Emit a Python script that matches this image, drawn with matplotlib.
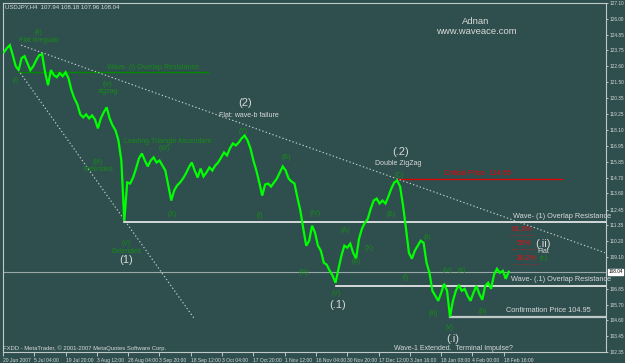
import numpy as np
import matplotlib
matplotlib.use("Agg")
from matplotlib import pyplot as plt
from matplotlib.transforms import blended_transform_factory

plt.rcParams["font.family"] = ["Liberation Sans", "DejaVu Sans"]

# USDJPY H4 closes, one reading per trading day (every 6 H4 bars)
closes = [
    123.61, 123.90, 124.11, 123.40, 122.62, 122.34, 123.19, 123.33, 122.83, 122.34,
    122.62, 123.05, 123.40, 123.47, 122.19, 121.27, 122.34, 121.98, 121.84, 122.12,
    121.91, 122.19, 121.76, 120.91, 120.34, 119.92, 119.20, 118.99, 119.20, 118.92,
    119.13, 118.85, 118.21, 118.92, 119.35, 119.70, 118.92, 118.42, 118.07, 117.36,
    115.93, 111.65, 114.37, 114.30, 114.72, 115.36, 116.08, 116.43, 115.93, 115.51,
    115.93, 116.15, 115.79, 115.93, 115.58, 115.22, 114.16, 113.09, 113.80, 114.16,
    114.37, 114.65, 115.01, 115.44, 115.79, 115.22, 114.72, 115.36, 114.80, 115.08,
    115.44, 115.22, 115.58, 115.79, 116.15, 116.50, 116.29, 116.79, 117.14, 117.00,
    117.21, 117.50, 117.71, 117.36, 116.79, 115.93, 115.22, 114.37, 113.44, 114.23,
    114.30, 114.08, 114.37, 114.65, 115.08, 115.51, 115.22, 114.65, 114.44, 114.30,
    113.30, 112.38, 111.10, 109.89, 110.24, 111.31, 110.81, 109.89, 109.53, 108.68,
    108.54, 108.11, 107.76, 107.26, 108.25, 109.18, 109.89, 109.75, 110.03, 109.39,
    108.96, 110.39, 111.10, 111.52, 111.81, 112.52, 113.09, 113.23, 112.88, 113.09,
    112.88, 113.37, 113.94, 114.37, 114.51, 114.08, 112.73, 111.10, 109.39, 108.96,
    109.53, 109.89, 110.24, 110.10, 108.68, 107.97, 106.69, 106.33, 105.98, 106.55,
    107.19, 106.69, 104.84, 105.98, 106.69, 107.11, 106.69, 106.83, 106.33, 105.98,
    106.55, 107.04, 106.47, 106.05, 107.04, 107.26, 106.83, 107.83, 108.25, 107.97,
    108.11, 107.54, 108.04,
]

time_labels = ["20 Jun 2007", "5 Jul 04:00", "19 Jul 20:00", "3 Aug 12:00", "28 Aug 04:00",
               "3 Sep 20:00", "18 Sep 12:00", "3 Oct 04:00", "17 Oct 20:00", "1 Nov 12:00",
               "16 Nov 04:00", "30 Nov 20:00", "17 Dec 12:00", "3 Jan 16:00", "18 Jan 08:00",
               "4 Feb 00:00", "18 Feb 16:00"]

price_labels = ["127.10", "126.00", "124.85", "123.75", "122.60", "121.50", "120.35",
                "119.25", "118.10", "116.95", "115.85", "114.70", "113.60", "112.45",
                "111.35", "110.20", "109.10", "106.85", "105.70", "104.60", "103.45",
                "102.35"]

last_price = 108.04
header = "USDJPY,H4  107.94 108.18 107.96 108.04"

# horizontal levels: (price, first bar, last bar)
wave1_overlap = (111.60, 247, 1233)
wave_dot1_overlap = (107.05, 680, 1233)
confirmation = (104.86, 915, 1233)
critical = (114.65, 808, 1143)
wave_i_overlap = (122.20, 31, 419)

# trend lines: (bar0, price0, bar1, price1)
upper_trend = (37, 124.11, 1231, 109.39)
lower_trend = (27, 122.55, 390, 104.77)

green_labels = [
    ("(ii)", 73, 125.04), ("Flat Irregular", 73, 124.47), ("(i)", 26, 121.62),
    ("Wave- (i) Overlap Resistance", 306, 122.55), ("(iv)", 214, 121.34),
    ("zigzag", 214, 120.84), ("(III)", 194, 115.79), ("Extended", 194, 115.29),
    ("Leading Triangle Ascendant", 337, 117.28), ("(W)", 329, 116.79),
    ("(X)", 347, 112.09), ("(V)", 251, 110.03), ("Extended", 251, 109.46),
    ("(Y)", 492, 117.99), ("(B)", 580, 116.15), ("(I)", 525, 112.02),
    ("(IV)", 639, 112.16), ("(III)", 614, 107.97), ("(V)", 682, 106.47),
    ("(A)", 700, 111.00), ("(B)", 722, 108.75), ("(X)", 748, 109.70),
    ("(B)", 793, 112.10), ("(C)", 811, 114.87), ("(i)", 823, 107.61),
    ("(ii)", 868, 110.46), ("(iv)", 909, 108.11), ("(a)", 939, 108.11),
    ("(iii)", 880, 105.05), ("(v)", 913, 104.06), ("(b)", 982, 105.20),
    ("(c)", 1105, 108.96),
]

white_labels = [
    ("(1)", 251, 108.89, 8), ("(2)", 496, 119.99, 8), ("(.2)", 813, 116.50, 8),
    ("(.1)", 684, 105.69, 8), ("(.i)", 919, 103.28, 8), ("(.ii)", 1105, 110.03, 8),
    ("Flat: wave-b failure", 502, 119.14, 5), ("Double ZigZag", 809, 115.72, 5),
    ("Flat", 1105, 109.46, 5), ("Wave-1 Extended.  Terminal Impulse?", 921, 102.63, 5),
    ("Wave- (1) Overlap Resistance", 1143, 111.95, 5.3), ("Wave- (.1) Overlap Resistance", 1141, 107.47, 5.3),
    ("Confirmation Price 104.95", 1115, 105.27, 5.3),
]

fib_labels = [("61.8%", 1062, 111.05), ("50%", 1066, 110.03), ("38.2%", 1070, 108.96)]

BG = "#2F4F4F"
FG = "#d8d8d8"
GREEN = "#178a17"

bars = 2 + 6 * np.arange(len(closes))

fig = plt.figure(figsize=(6.25, 3.63), dpi=100, facecolor=BG)
ax = fig.add_axes([3 / 625, 11 / 363, 603 / 625, 349 / 363], facecolor=BG)
ax.set_xlim(0, 1233)
ax.set_ylim(102.35, 127.10)

# bid line
ax.axhline(last_price, color="#9aa8a8", lw=0.8, zorder=1)

# levels
for price, b0, b1 in (wave1_overlap, wave_dot1_overlap):
    ax.plot([b0, b1], [price, price], color="#f0f0f0", lw=1.2, zorder=2)
ax.plot([confirmation[1], confirmation[2]], [confirmation[0]] * 2, color="#c0c8c8", lw=1.6, zorder=2)
ax.plot([critical[1], critical[2]], [critical[0]] * 2, color="#e00000", lw=0.9, zorder=2)
ax.plot([wave_i_overlap[1], wave_i_overlap[2]], [wave_i_overlap[0]] * 2, color="#008a00", lw=1.0, zorder=2)

for b0, p0, b1, p1 in (upper_trend, lower_trend):
    ax.plot([b0, b1], [p0, p1], color="#c8d0d0", lw=0.8, ls=(0, (1.2, 2)), zorder=2)

# price
ax.plot(bars, closes, color="#00ff00", lw=1.6, solid_joinstyle="miter", zorder=3)

for text, b, p in green_labels:
    ax.text(b, p, text, color=GREEN, fontsize=5, ha="center", va="center", zorder=4)
for text, b, p, fs in white_labels:
    ax.text(b, p, text, color=FG, fontsize=fs, ha="center", va="center", zorder=4)
ax.text(970, 115.0, "Critical Price  114.65", color="#e00000", fontsize=5.3, ha="center", va="center")
for text, b, p in fib_labels:
    ax.text(b, p, text, color="#e01010", fontsize=5.3, ha="center", va="center", zorder=4)
    ax.plot([b - 26, b + 26], [p - 0.38, p - 0.38], color="#e01010", lw=0.6, ls=(0, (1, 2)))

# axes styling
for side in ("top", "right", "bottom", "left"):
    ax.spines[side].set_color("#c0c8c8")
    ax.spines[side].set_linewidth(0.8)

ax.yaxis.tick_right()
ax.set_yticks([float(v) for v in price_labels])
ax.set_yticklabels(price_labels)
ax.tick_params(axis="y", colors=FG, labelsize=3.4, length=1.5, width=0.6, pad=0.8, direction="out")

ax.set_xticks(64 * np.arange(len(time_labels)))
ax.set_xticklabels(time_labels, ha="left")
ax.tick_params(axis="x", colors=FG, labelsize=3.6, length=3, width=0.6, pad=1.5, direction="out")

trans = blended_transform_factory(ax.transAxes, ax.transData)
ax.text(1.004, last_price, f"{last_price:.2f}", transform=trans, fontsize=3.4, color="black",
        va="center", ha="left", bbox=dict(boxstyle="square,pad=0.1", fc="white", ec="white"))

fig.text(5 / 625, 1 - 7 / 363, header, color=FG, fontsize=4.3, va="center")
fig.text(476 / 625, 1 - 21 / 363, "Adnan", color=FG, fontsize=6.8, ha="center", va="center")
fig.text(476 / 625, 1 - 31 / 363, "www.waveace.com", color=FG, fontsize=6.8, ha="center", va="center")
fig.text(3 / 625, 1 - 348 / 363, "FXDD - MetaTrader, \u00a9 2001-2007 MetaQuotes Software Corp.",
         color=FG, fontsize=4.2, va="center")

fig.savefig("out.png", dpi=100, facecolor=BG)
